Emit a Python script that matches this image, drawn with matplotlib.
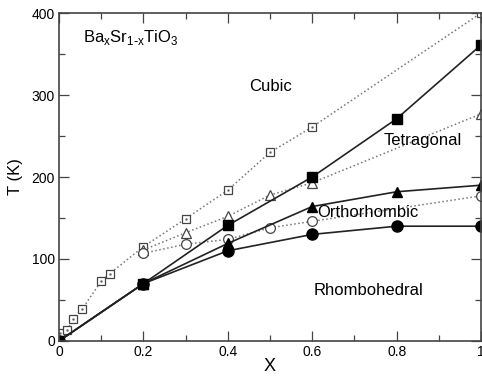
import matplotlib.pyplot as plt
from matplotlib.ticker import MultipleLocator

plt.rcParams['font.family'] = ['Liberation Sans', 'DejaVu Sans']

# cubic -> tetragonal (experiment, open squares)
x_ct_exp = [0.002, 0.02, 0.033, 0.055, 0.1, 0.12, 0.2, 0.3, 0.4, 0.5, 0.6, 1.0]
t_ct_exp = [10, 13, 27, 39, 73, 82, 115, 149, 184, 230, 261, 400]
# tetragonal -> orthorhombic (experiment, open triangles)
x_to_exp = [0.2, 0.3, 0.4, 0.5, 0.6, 1.0]
t_to_exp = [111, 132, 152, 178, 193, 277]
# orthorhombic -> rhombohedral (experiment, open circles)
x_or_exp = [0.2, 0.3, 0.4, 0.5, 0.6, 1.0]
t_or_exp = [107, 118, 124, 138, 146, 177]

# calculated transitions (filled symbols)
x_calc = [0.0, 0.2, 0.4, 0.6, 0.8, 1.0]
t_ct_calc = [0, 70, 141, 200, 271, 361]
t_to_calc = [0, 70, 119, 164, 182, 190]
t_or_calc = [0, 70, 110, 130, 140, 140]

fig = plt.figure(figsize=(4.82, 3.77), dpi=100)
ax = fig.add_axes([0.1224, 0.0955, 0.8756, 0.87])

dot = dict(color='#777777', ls=':', lw=1.1, mec='#444444', mfc='white', mew=0.9)
ax.plot(x_ct_exp, t_ct_exp, marker='s', ms=5.5, **dot)
ax.plot(x_ct_exp, t_ct_exp, ls='none', marker='.', ms=1.5, color='#666666')
ax.plot(x_to_exp, t_to_exp, marker='^', ms=6.5, **dot)
ax.plot(x_or_exp, t_or_exp, marker='o', ms=7, **dot)

solid = dict(color='#222222', ls='-', lw=1.2, mec='black', mfc='black')
ax.plot(x_calc, t_ct_calc, marker='s', ms=7, **solid)
ax.plot(x_calc, t_to_calc, marker='^', ms=7, **solid)
ax.plot(x_calc, t_or_calc, marker='o', ms=8, **solid)

ax.set_xlim(0, 1)
ax.set_ylim(0, 400)
ax.xaxis.set_minor_locator(MultipleLocator(0.1))
ax.yaxis.set_major_locator(MultipleLocator(100))
ax.yaxis.set_minor_locator(MultipleLocator(50))
ax.set_xticks([0, 0.2, 0.4, 0.6, 0.8, 1.0])
ax.set_xticklabels(['0', '0.2', '0.4', '0.6', '0.8', '1'])
ax.tick_params(which='both', direction='in', top=True, right=True,
               labelsize=10, width=0.9, color='#444444')
ax.tick_params(which='major', length=7)
ax.tick_params(which='minor', length=4)
ax.tick_params(axis='x', pad=3)
ax.tick_params(axis='y', pad=3)
for s in ax.spines.values():
    s.set_color('#444444')
    s.set_linewidth(1.2)

ax.set_xlabel('X', fontsize=13, labelpad=-1)
ax.set_ylabel('T (K)', fontsize=12, labelpad=6)

ax.text(0.058, 370, r'Ba$_{\mathregular{x}}$Sr$_{\mathregular{1\text{-}x}}$TiO$_{\mathregular{3}}$',
        fontsize=12, va='center', ha='left')
ax.text(0.5, 310, 'Cubic', fontsize=12, ha='center', va='center')
ax.text(0.862, 244, 'Tetragonal', fontsize=12, ha='center', va='center')
ax.text(0.733, 157, 'Orthorhombic', fontsize=12, ha='center', va='center')
ax.text(0.733, 62, 'Rhombohedral', fontsize=12, ha='center', va='center')

fig.savefig('out.png', dpi=100)
